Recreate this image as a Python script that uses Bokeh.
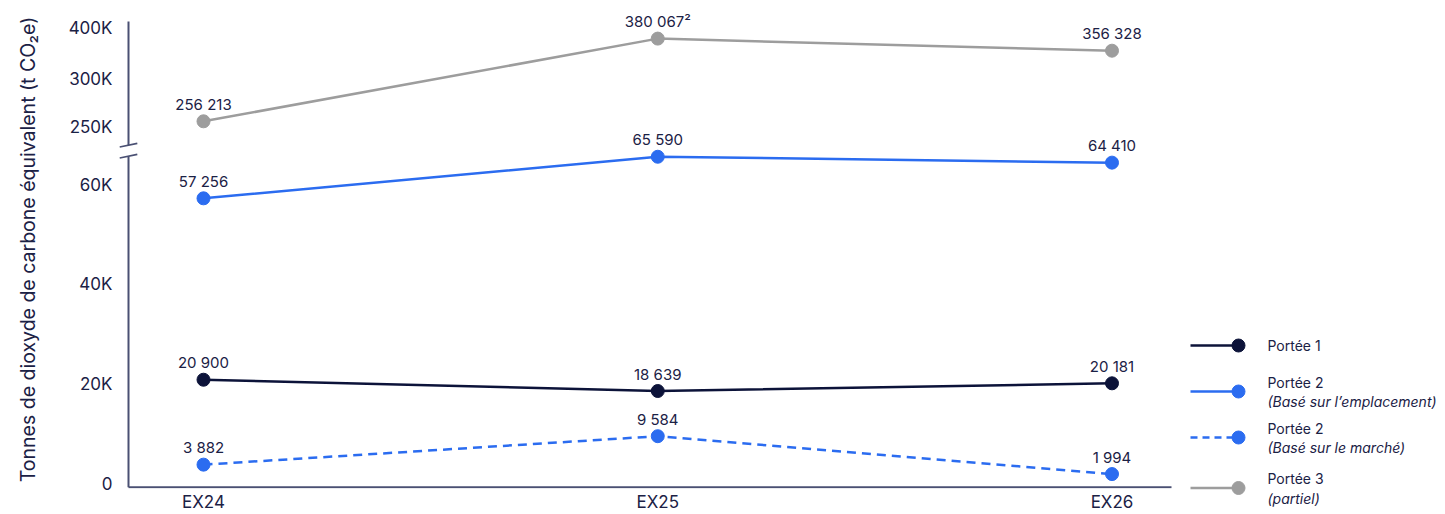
import numpy as np
from bokeh.plotting import figure
from bokeh.models import Range1d, FixedTicker
from bokeh.layouts import row
from bokeh.embed import file_html
from bokeh.resources import INLINE
from bokeh.core.properties import value

# ---- data -------------------------------------------------------------
years = ["EX24", "EX25", "EX26"]
scope1 = [20900, 18639, 20181]
scope2_location = [57256, 65590, 64410]
scope2_market = [3882, 9584, 1994]
scope3_partial = [256213, 380067, 356328]
scope3_notes = ["", "²", ""]

y_tick_values = [0, 20000, 40000, 60000, 250000, 300000, 400000]
y_tick_labels = ["0", "20K", "40K", "60K", "250K", "300K", "400K"]

legend_titles = ["Portée 1", "Portée 2", "Portée 2", "Portée 3"]
legend_notes = ["", "(Basé sur l’emplacement)", "(Basé sur le marché)", "(partiel)"]

y_title = "Tonnes de dioxyde de carbone équivalent (t CO₂e)"

# ---- style ------------------------------------------------------------
FONT = "Inter"
TEXT = "#1b2145"
AXIS = "#4a5073"
NAVY = "#0c1339"
BLUE = "#2b6cf0"
GREY = "#9d9d9d"

# ---- broken value axis -------------------------------------------------
# lower segment is linear in tonnes; the upper segment (above the break)
# is piecewise linear between its own tick marks
LOWER_SCALE = 0.005
UPPER_BREAKS = [250000, 300000, 400000]
UPPER_POS = [357.5, 405.5, 456.5]
BREAK_LOW, BREAK_HIGH = 328.5, 339.5


def to_axis(v):
    if v <= 100000:
        return v * LOWER_SCALE
    return float(np.interp(v, UPPER_BREAKS, UPPER_POS))


def fmt(v):
    return f"{v:,}".replace(",", " ")


# ---- canvas geometry -------------------------------------------------------
H = 514
MAIN_W, LEGEND_W = 1180, 265
LEFT, TOP, BOTTOM = 118, 10, 25
X0_PX, X_STEP_PX = 203, 454.25       # screen position of first category, spacing
ZERO_PX = 484.5                       # screen row of the value 0


def sx(px):
    return (px - X0_PX) / X_STEP_PX


def sy(py):
    return ZERO_PX - py


xs = list(range(len(years)))
X_START, X_END = sx(LEFT), sx(MAIN_W)
Y_START, Y_END = sy(H - BOTTOM), sy(TOP)
AXIS_X = sx(128)
AXIS_RIGHT = sx(1171)
AXIS_TOP = sy(21)
BASE_Y = sy(487.7)

p = figure(width=MAIN_W, height=H,
           x_range=Range1d(X_START, X_END), y_range=Range1d(Y_START, Y_END),
           output_backend="svg", toolbar_location=None,
           min_border_left=LEFT, min_border_right=0,
           min_border_top=TOP, min_border_bottom=BOTTOM)
p.frame_align = False
p.outline_line_color = None
p.grid.visible = False

# y axis: ticks placed through the broken-axis mapping
ytick_pos = [to_axis(t) for t in y_tick_values]
p.yaxis.ticker = FixedTicker(ticks=ytick_pos)
p.yaxis.major_label_overrides = dict(zip(ytick_pos, y_tick_labels))
p.yaxis.axis_line_color = None
p.yaxis.major_tick_line_color = None
p.yaxis.minor_tick_line_color = None
p.yaxis.major_tick_out = 0
p.yaxis.major_tick_in = 0
p.yaxis.minor_tick_out = 0
p.yaxis.major_label_standoff = 6
p.yaxis.major_label_text_font = FONT
p.yaxis.major_label_text_font_size = "17px"
p.yaxis.major_label_text_color = TEXT
p.yaxis.axis_label = y_title
p.yaxis.axis_label_text_font = FONT
p.yaxis.axis_label_text_font_style = "normal"
p.yaxis.axis_label_text_font_size = "19.5px"
p.yaxis.axis_label_text_color = TEXT
p.yaxis.axis_label_standoff = 26

p.xaxis.ticker = FixedTicker(ticks=xs)
p.xaxis.major_label_overrides = dict(zip(xs, years))
p.xaxis.axis_line_color = None
p.xaxis.major_tick_line_color = None
p.xaxis.minor_tick_line_color = None
p.xaxis.major_tick_out = 0
p.xaxis.major_tick_in = 0
p.xaxis.minor_tick_out = 0
p.xaxis.major_label_standoff = 3
p.xaxis.axis_label_standoff = 0
p.xaxis.major_label_text_font = FONT
p.xaxis.major_label_text_font_size = "17px"
p.xaxis.major_label_text_color = TEXT

# axis lines with a break mark on the value axis
p.segment(x0=[AXIS_X, AXIS_X, AXIS_X], y0=[BASE_Y, BREAK_HIGH, BASE_Y],
          x1=[AXIS_X, AXIS_X, AXIS_RIGHT], y1=[BREAK_LOW, AXIS_TOP, BASE_Y],
          line_color=AXIS, line_width=2)
dx, dy = sx(128 + 8.8) - AXIS_X, 1.85
p.segment(x0=[AXIS_X - dx] * 2, y0=[BREAK_LOW - dy, BREAK_HIGH - dy],
          x1=[AXIS_X + dx] * 2, y1=[BREAK_LOW + dy, BREAK_HIGH + dy],
          line_color=AXIS, line_width=1.6)

series = [
    (scope1, NAVY, "solid", ["" for _ in years]),
    (scope2_location, BLUE, "solid", ["" for _ in years]),
    (scope2_market, BLUE, "9 6", ["" for _ in years]),
    (scope3_partial, GREY, "solid", scope3_notes),
]

for vals, color, dash, notes in series:
    ys = [to_axis(v) for v in vals]
    p.line(xs, ys, line_color=color, line_width=2.5, line_dash=dash)
    p.scatter(xs, ys, size=13, fill_color=color, line_color=color)
    p.text(xs, ys, text=[fmt(v) + n for v, n in zip(vals, notes)],
           text_align="center", text_baseline="middle", y_offset=-17,
           text_font=value(FONT), text_font_size="15px", text_color=TEXT)

# ---- legend panel (screen-pixel coordinates, y downwards) -------------------
lg = figure(width=LEGEND_W, height=H,
            x_range=Range1d(MAIN_W, MAIN_W + LEGEND_W), y_range=Range1d(H, 0),
            x_axis_type=None, y_axis_type=None, title=None,
            output_backend="svg", toolbar_location=None,
            min_border_left=0, min_border_right=0, min_border_top=0, min_border_bottom=0)
lg.frame_align = False
lg.outline_line_color = None
lg.grid.visible = False

row_px = [345, 391, 437, 487.5]
colors = [NAVY, BLUE, BLUE, GREY]
dashes = ["solid", "solid", "7 5", "solid"]
for ry, title, note, color, dash in zip(row_px, legend_titles, legend_notes, colors, dashes):
    lg.line([1190, 1238], [ry, ry], line_color=color, line_width=2.5, line_dash=dash)
    lg.scatter([1238], [ry], size=13, fill_color=color, line_color=color)
    if note:
        lg.text([1267], [ry - 9.5], text=[title], text_baseline="middle",
                text_font=value(FONT), text_font_size="14px", text_color=TEXT)
        lg.text([1267], [ry + 10], text=[note], text_baseline="middle",
                text_font=value(FONT), text_font_size="14px", text_color=TEXT,
                text_font_style="italic")
    else:
        lg.text([1267], [ry], text=[title], text_baseline="middle",
                text_font=value(FONT), text_font_size="14px", text_color=TEXT)

layout = row(p, lg)
open("out.html", "w").write(file_html(layout, INLINE))
